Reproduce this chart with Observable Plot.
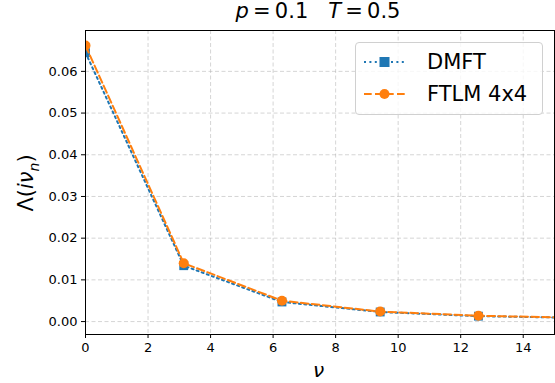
<!DOCTYPE html>
<html><head><meta charset="utf-8">
<script src="https://cdn.jsdelivr.net/npm/d3@7"></script>
<script src="https://cdn.jsdelivr.net/npm/@observablehq/plot@0.6"></script>
<style>
body{margin:0;background:#fff;font-family:"DejaVu Sans",sans-serif;}
#wrap{position:relative;width:555px;height:383px;}
.ov{position:absolute;white-space:nowrap;color:#000;}
</style></head><body>
<div id="wrap"></div>
<script>
const nu = [0, 3.14159, 6.28319, 9.42478, 12.56637, 15.70796];
const dmft = [0.0645, 0.0134, 0.0047, 0.0023, 0.0013, 0.0009];
const ftlm = [0.0662, 0.0140, 0.0050, 0.0024, 0.0014, 0.0009];
const xTicks = [0, 2, 4, 6, 8, 10, 12, 14];
const yTicks = [0, 0.01, 0.02, 0.03, 0.04, 0.05, 0.06];
const seriesNames = ["DMFT", "FTLM 4x4"];

const dD = nu.map((x, i) => ({x, y: dmft[i]}));
const dF = nu.map((x, i) => ({x, y: ftlm[i]}));
const blue = "#1f77b4", orange = "#ff7f0e";
const blueDash = "2,3.4", orangeDash = "7.7,3.3";

const chart = Plot.plot({
  width: 555, height: 383,
  marginLeft: 85, marginRight: 1, marginTop: 30, marginBottom: 49,
  style: {fontFamily: "DejaVu Sans, sans-serif", fontSize: "13px", color: "#000", background: "#fff"},
  x: {domain: [0, 15], ticks: xTicks, tickFormat: d => d, label: null, tickSize: 4},
  y: {domain: [-0.0031, 0.0698], ticks: yTicks, tickFormat: d3.format(".2f"), label: null, tickSize: 4},
  marks: [
    Plot.gridX(xTicks, {stroke: "#b0b0b0", strokeOpacity: 0.6, strokeDasharray: "4,2.5", strokeWidth: 0.9}),
    Plot.gridY(yTicks, {stroke: "#b0b0b0", strokeOpacity: 0.6, strokeDasharray: "4,2.5", strokeWidth: 0.9}),
    Plot.axisX({ticks: xTicks, tickSize: 4, tickPadding: 4, fontSize: 13, tickFormat: d => d, label: null}),
    Plot.axisY({ticks: yTicks, tickSize: 4, tickPadding: 4, fontSize: 13, tickFormat: d3.format(".2f"), label: null}),
    Plot.line(dD, {x: "x", y: "y", stroke: blue, strokeWidth: 2, strokeDasharray: blueDash, clip: true}),
    Plot.dot(dD, {x: "x", y: "y", symbol: "square", r: 5, fill: blue, stroke: "none", clip: true}),
    Plot.line(dF, {x: "x", y: "y", stroke: orange, strokeWidth: 2, strokeDasharray: orangeDash, clip: true}),
    Plot.dot(dF, {x: "x", y: "y", symbol: "circle", r: 5, fill: orange, stroke: "none", clip: true}),
    Plot.frame({stroke: "#000", strokeWidth: 1})
  ]
});
const wrap = document.getElementById("wrap");
wrap.appendChild(chart);

function ov(html, style){
  const d = document.createElement("div");
  d.className = "ov"; d.innerHTML = html; Object.assign(d.style, style);
  wrap.appendChild(d); return d;
}
// title
ov('<i>p</i>&thinsp;=&thinsp;0.1&nbsp;&nbsp;&nbsp;<i>T</i>&thinsp;=&thinsp;0.5', {left: "85px", width: "466px", top: "-1px", fontSize: "21px", textAlign: "center"});
// x label
ov('<i>ν</i>', {left: "313px", top: "358px", fontSize: "20px"});
// y label
ov('Λ(<i>iν<sub style="font-size:14px">n</sub></i>)', {left: "28px", top: "183px", fontSize: "21px", transform: "translate(-50%,-50%) rotate(-90deg)"});
// legend
const leg = ov('', {left: "355px", top: "42px", width: "186px", height: "71px", border: "1px solid #d0d0d0", borderRadius: "4px", background: "rgba(255,255,255,0.8)"});
const legItems = [
  {name: seriesNames[0], color: blue, dash: blueDash, sym: "square"},
  {name: seriesNames[1], color: orange, dash: orangeDash, sym: "circle"}
];
legItems.forEach((it, i) => {
  const row = document.createElement("div");
  row.style.cssText = `position:absolute;left:8px;top:${7 + i*32}px;height:24px;display:flex;align-items:center;`;
  const marker = it.sym === "square"
    ? `<rect x="15.5" y="7" width="10" height="10" fill="${it.color}"/>`
    : `<circle cx="20.5" cy="12" r="5" fill="${it.color}"/>`;
  row.innerHTML = `<svg width="41" height="24"><line x1="0" x2="41" y1="12" y2="12" stroke="${it.color}" stroke-width="2" stroke-dasharray="${it.dash}"/>${marker}</svg><span style="font-size:21px;margin-left:22px">${it.name}</span>`;
  leg.appendChild(row);
});
</script>
</body></html>
